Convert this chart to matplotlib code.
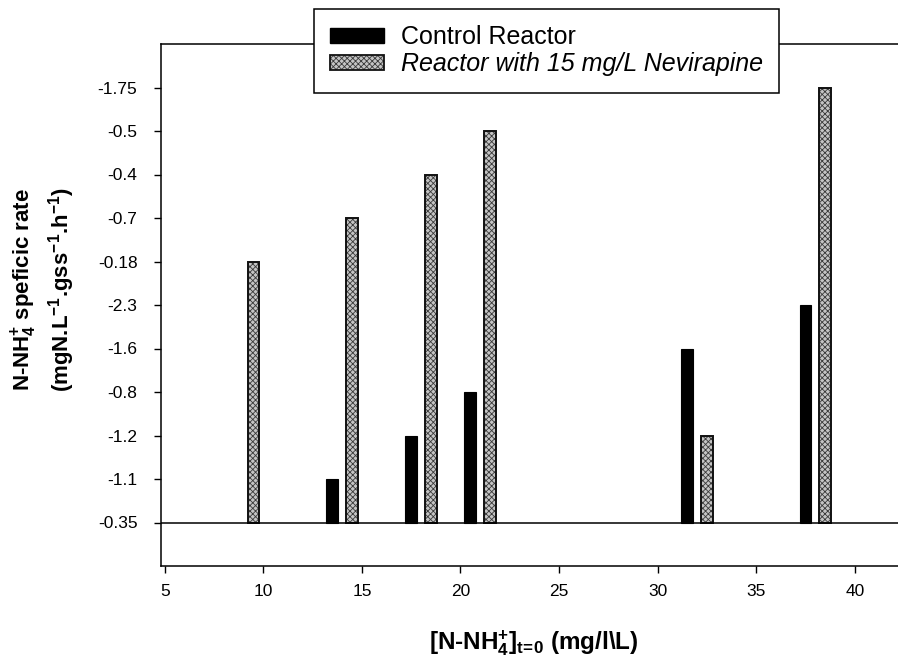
import matplotlib
matplotlib.use("Agg")
import matplotlib.pyplot as plt
from matplotlib.patches import Patch
from matplotlib.legend_handler import HandlerTuple

plt.rcParams["font.family"] = ["Liberation Sans", "DejaVu Sans"]
plt.rcParams["mathtext.fontset"] = "custom"
plt.rcParams["mathtext.rm"] = "Liberation Sans"
plt.rcParams["mathtext.it"] = "Liberation Sans:italic"
plt.rcParams["mathtext.bf"] = "Liberation Sans:bold"
plt.rcParams["hatch.linewidth"] = 0.6

# y axis labels as printed on the chart (bottom to top)
ytick_labels = ["-0.35", "-1.1", "-1.2", "-0.8", "-1.6", "-2.3",
                "-0.18", "-0.7", "-0.4", "-0.5", "-1.75"]

# control reactor
conc_control = [13.5, 17.5, 20.5, 31.5, 37.5]
rate_control = ["-1.1", "-1.2", "-0.8", "-1.6", "-2.3"]

# reactor with 15 mg/L nevirapine
conc_nvp = [9.5, 14.5, 18.5, 21.5, 32.5, 38.5]
rate_nvp = ["-0.18", "-0.7", "-0.4", "-0.5", "-1.2", "-1.75"]

xticks = [5, 10, 15, 20, 25, 30, 35, 40]

# position of each value on the (categorical) y axis
pos_control = [ytick_labels.index(v) for v in rate_control]
pos_nvp = [ytick_labels.index(v) for v in rate_nvp]

fig = plt.figure(figsize=(8.98, 6.66), dpi=100)
ax = fig.add_axes([161 / 898, 100 / 666, 1 - 161 / 898, 522 / 666])

w = 0.6
gray_face = "#c4c4c4"
hatch_col = "#3a3a3a"
ax.bar(conc_control, pos_control, width=w, color="black", edgecolor="black",
       linewidth=0.8, zorder=3)
# textured bars: hatch layer + black outline layer
ax.bar(conc_nvp, pos_nvp, width=w, facecolor=gray_face, edgecolor=hatch_col,
       hatch="xxxxxx", linewidth=0, zorder=3)
ax.bar(conc_nvp, pos_nvp, width=w, fill=False, edgecolor="#111111",
       linewidth=1.4, zorder=4)

ax.axhline(0, color="black", lw=1.1, zorder=5)

ax.set_xlim(4.81, 42.19)
ax.set_ylim(-1, 11)
ax.set_xticks(xticks)
ax.set_yticks(range(len(ytick_labels)))
ax.set_yticklabels(ytick_labels)
ax.tick_params(axis="both", direction="out", length=5, width=1, labelsize=12.5)
ax.tick_params(axis="y", pad=12)
ax.tick_params(axis="x", pad=8)

ax.spines["right"].set_visible(False)
for s in ["left", "bottom", "top"]:
    ax.spines[s].set_linewidth(1.1)

# axis titles
fig.text(24 / 898, 1 - 290 / 666, r"N-NH$_\mathbf{4}^\mathbf{+}$ speficic rate",
         rotation=90, ha="center", va="center", fontsize=16, fontweight="bold")
fig.text(62 / 898, 1 - 290 / 666,
         r"(mgN.L$^\mathbf{-1}$.gss$^\mathbf{-1}$.h$^\mathbf{-1}$)",
         rotation=90, ha="center", va="center", fontsize=16, fontweight="bold")
fig.text(534 / 898, 1 - 643 / 666,
         r"[N-NH$_\mathbf{4}^\mathbf{+}$]$_\mathbf{t\!=\!0}$ (mg/l\L)",
         ha="center", va="center", fontsize=17.5, fontweight="bold")

# legend
h_ctrl = Patch(facecolor="black", edgecolor="black")
h_nvp = (Patch(facecolor=gray_face, edgecolor=hatch_col, hatch="xxxxxx", linewidth=0),
         Patch(fill=False, edgecolor="#111111", linewidth=1.3))
leg = fig.legend([h_ctrl, h_nvp],
                 ["Control Reactor", "Reactor with 15 mg/L Nevirapine"],
                 handler_map={tuple: HandlerTuple(ndivide=1, pad=0)},
                 loc="upper left", bbox_to_anchor=(314 / 898, 1 - 9 / 666),
                 fontsize=18, frameon=True, fancybox=False, framealpha=1,
                 edgecolor="black", handlelength=2.15, handleheight=0.6,
                 handletextpad=0.68, borderpad=0.65, labelspacing=0.12,
                 borderaxespad=0)
leg.get_frame().set_linewidth(1.1)
leg.get_texts()[1].set_style("italic")
leg.set_zorder(10)

fig.savefig("out.png", dpi=100)
